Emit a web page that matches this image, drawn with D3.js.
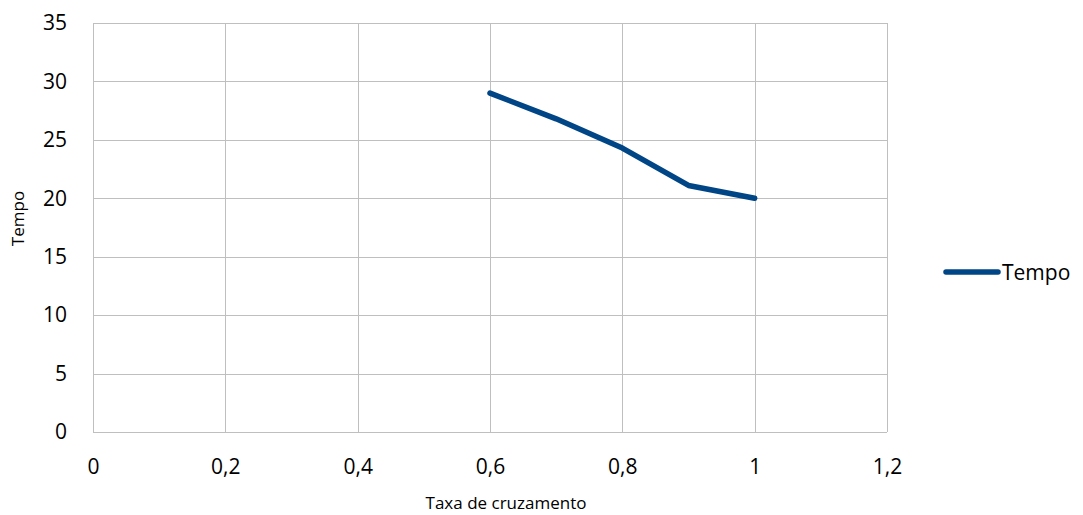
<!DOCTYPE html>
<html>
<head>
<meta charset="utf-8">
<script src="https://cdn.jsdelivr.net/npm/d3@7"></script>
<style>
  html, body { margin: 0; padding: 0; background: #fff; }
  svg { display: block; }
  text { font-family: "Open Sans", "Liberation Sans", sans-serif; fill: #000; }
</style>
</head>
<body>
<svg id="chart" width="1083" height="515"></svg>
<script>
const xValues = [0.6, 0.7, 0.8, 0.9, 1.0];
const tempo = [29.0, 26.8, 24.3, 21.1, 20.0];
const xTicks = [0, 0.2, 0.4, 0.6, 0.8, 1.0, 1.2];
const yTicks = [0, 5, 10, 15, 20, 25, 30, 35];
const seriesName = "Tempo";
const xTitle = "Taxa de cruzamento";
const yTitle = "Tempo";

(function () {
const svg = d3.select("#chart");
const pL = 93, pR = 887, pT = 23, pB = 432;

const x = d3.scaleLinear().domain([0, 1.2]).range([pL, pR]);
const y = d3.scaleLinear().domain([0, 35]).range([pB, pT]);
const fmt = d => String(+d.toFixed(1)).replace(".", ",");

// grid
const grid = svg.append("g");
grid.selectAll("line.h").data(yTicks).join("line")
  .attr("x1", pL).attr("x2", pR)
  .attr("y1", d => Math.round(y(d)) + 0.5).attr("y2", d => Math.round(y(d)) + 0.5)
  .attr("stroke", "#bfbfbf").attr("stroke-width", 1);
grid.selectAll("line.v").data(xTicks).join("line")
  .attr("y1", pT).attr("y2", pB)
  .attr("x1", d => Math.round(x(d)) + 0.5).attr("x2", d => Math.round(x(d)) + 0.5)
  .attr("stroke", "#bfbfbf").attr("stroke-width", 1);

// axes (tick labels only)
const yAxis = d3.axisLeft(y).tickValues(yTicks).tickSize(0).tickPadding(26).tickFormat(d => d);
const gy = svg.append("g").attr("transform", `translate(${pL},0)`).call(yAxis);
gy.select(".domain").remove();
gy.attr("font-family", null).attr("font-size", null);
gy.selectAll("text").style("font-size", "21px");

const xAxis = d3.axisBottom(x).tickValues(xTicks).tickSize(0).tickPadding(0).tickFormat(fmt);
const gx = svg.append("g").attr("transform", `translate(0,${pB})`).call(xAxis);
gx.select(".domain").remove();
gx.attr("font-family", null).attr("font-size", null);
gx.selectAll("text").style("font-size", "21px").attr("y", 0).attr("dy", 42);

// series line
const line = d3.line().x((d, i) => x(xValues[i])).y(d => y(d));
svg.append("path").datum(tempo)
  .attr("d", line)
  .attr("fill", "none")
  .attr("stroke", "#004586")
  .attr("stroke-width", 5.5)
  .attr("stroke-linecap", "round")
  .attr("stroke-linejoin", "round");

// axis titles
svg.append("text").attr("x", (pL + pR) / 2 + 16).attr("y", 509)
  .attr("text-anchor", "middle").style("font-size", "17px").text(xTitle);
svg.append("text")
  .attr("transform", `translate(24,${(pT + pB) / 2 - 9}) rotate(-90)`)
  .attr("text-anchor", "middle").style("font-size", "17px").text(yTitle);

// legend
svg.append("line").attr("x1", 946).attr("x2", 998).attr("y1", 272).attr("y2", 272)
  .attr("stroke", "#004586").attr("stroke-width", 5.5).attr("stroke-linecap", "round");
svg.append("text").attr("x", 1002).attr("y", 280).style("font-size", "21px").text(seriesName);
})();
</script>
</body>
</html>
